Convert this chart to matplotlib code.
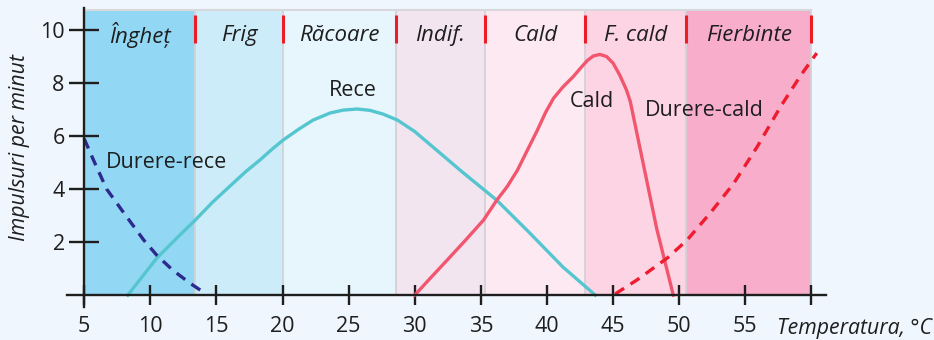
import matplotlib
matplotlib.use("Agg")
import matplotlib.pyplot as plt

plt.rcParams['font.family'] = ['Open Sans', 'DejaVu Sans']

# temperature bands
band_edges = [5, 13.4, 20.05, 28.6, 35.3, 42.9, 50.5, 60]
band_names = ['Îngheț', 'Frig', 'Răcoare', 'Indif.', 'Cald', 'F. cald', 'Fierbinte']
band_colors = ['#92d8f4', '#cdecfa', '#e7f6fd', '#f3e5f0', '#fde9f1', '#fdd4e3', '#f8adcb']
band_top = 10.75

# curves
rece_x = [8.3, 9.4, 10.5, 12.0, 13.4, 14.7, 16.0, 17.2, 18.3, 19.2, 20.05, 21.2,
          22.3, 23.6, 24.6, 25.65, 26.6, 27.6, 28.7, 30.0, 31.2, 33.7, 36.2,
          38.7, 41.2, 43.65]
rece_y = [0.0, 0.7, 1.4, 2.15, 2.83, 3.5, 4.1, 4.65, 5.1, 5.5, 5.85, 6.25,
          6.6, 6.87, 6.98, 7.02, 6.97, 6.83, 6.6, 6.17, 5.66, 4.6, 3.58,
          2.34, 1.06, 0.0]

cald_x = [30.0, 31.2, 32.45, 33.8, 35.2, 36.2, 37.0, 37.75, 38.5, 39.25, 39.9,
          40.5, 41.2, 42.0, 42.6, 43.05, 43.5, 44.0, 44.5, 45.0, 45.5, 46.0,
          46.3, 46.8, 47.3, 48.3, 49.55]
cald_y = [0.0, 0.65, 1.32, 2.05, 2.83, 3.58, 4.1, 4.7, 5.45, 6.2, 6.9,
          7.43, 7.85, 8.25, 8.6, 8.85, 9.02, 9.08, 9.0, 8.75, 8.3, 7.75,
          7.3, 6.1, 4.9, 2.5, 0.0]

drece_x = [5.0, 5.7, 6.7, 8.0, 9.5, 10.5, 11.7, 13.0, 14.2]
drece_y = [5.9, 5.1, 4.0, 3.1, 2.08, 1.5, 0.94, 0.45, 0.05]

dcald_x = [45.15, 46.8, 49.1, 50.6, 52.35, 54.1, 55.9, 57.65, 59.2, 60.4]
dcald_y = [0.04, 0.57, 1.4, 2.08, 3.1, 4.2, 5.6, 7.1, 8.3, 9.13]

x_ticks = [5, 10, 15, 20, 25, 30, 35, 40, 45, 50, 55, 60]
x_labels = ['5', '10', '15', '20', '25', '30', '35', '40', '45', '50', '55', '']
y_ticks = [2, 4, 6, 8, 10]

bg = '#f0f6fd'
ink = '#1e1e1e'

fig = plt.figure(figsize=(9.34, 3.4), dpi=100, facecolor=bg)
ax = fig.add_axes([0.0717, 0.097, 0.8127, 0.8794], facecolor=bg)

lefts = band_edges[:-1]
widths = [b - a for a, b in zip(band_edges[:-1], band_edges[1:])]
ax.bar(lefts, band_top, width=widths, align='edge', color=band_colors,
       edgecolor='none', zorder=0)
for e in band_edges[1:]:
    ax.plot([e, e], [0, band_top], color='#d2d2d6', lw=1.3, zorder=1)
ax.plot([band_edges[0], band_edges[-1]], [band_top, band_top], color='#d8d8dc', lw=1.5, zorder=1)
for e in band_edges[1:]:
    ax.plot([e, e], [9.5, 10.57], color='#ee1c25', lw=2.2, zorder=2, solid_capstyle='butt')
for a, b, name in zip(band_edges[:-1], band_edges[1:], band_names):
    ax.text((a + b) / 2, 9.8, name, ha='center', va='center', fontsize=16,
            style='italic', color=ink)

ax.plot(rece_x, rece_y, color='#55c6d0', lw=2.4, zorder=3, solid_joinstyle='round')
ax.plot(cald_x, cald_y, color='#f2566f', lw=2.4, zorder=3, solid_joinstyle='round')
ax.plot(drece_x, drece_y, color='#2c2a8c', lw=2.4, ls=(0, (3.2, 2.3)), zorder=3)
ax.plot(dcald_x, dcald_y, color='#ee1c2e', lw=2.4, ls=(0, (3.2, 2.3)), zorder=3)

ax.text(11.25, 5.0, 'Durere-rece', ha='center', va='center', fontsize=15.5, color=ink)
ax.text(25.3, 7.7, 'Rece', ha='center', va='center', fontsize=15.5, color=ink)
ax.text(43.4, 7.3, 'Cald', ha='center', va='center', fontsize=15.5, color=ink)
ax.text(51.9, 6.95, 'Durere-cald', ha='center', va='center', fontsize=15.5, color=ink)

ax.set_xlim(3.7, 61.1)
ax.set_ylim(-0.45, 10.83)
for s in ['top', 'right']:
    ax.spines[s].set_visible(False)
ax.spines['left'].set_position(('data', 5))
ax.spines['bottom'].set_position(('data', 0))
for s in ['left', 'bottom']:
    ax.spines[s].set_color(ink)
    ax.spines[s].set_linewidth(1.7)
    ax.spines[s].set_zorder(4)

ax.set_xticks(x_ticks)
ax.set_xticklabels(x_labels)
ax.set_yticks(y_ticks)
ax.tick_params(axis='x', direction='inout', length=14, width=1.7, color=ink,
               labelsize=15.5, labelcolor=ink, pad=8)
ax.tick_params(axis='y', direction='inout', length=22, width=1.7, color=ink,
               labelsize=15.5, labelcolor=ink, pad=3)

fig.text(0.9978, 0.035, 'Temperatura, °C', ha='right', va='center', fontsize=15.3,
         style='italic', color=ink)
fig.text(0.021, 0.565, 'Impulsuri per minut', ha='center', va='center', rotation=90,
         fontsize=15.3, style='italic', color=ink)

fig.savefig('out.png', dpi=100, facecolor=bg)
